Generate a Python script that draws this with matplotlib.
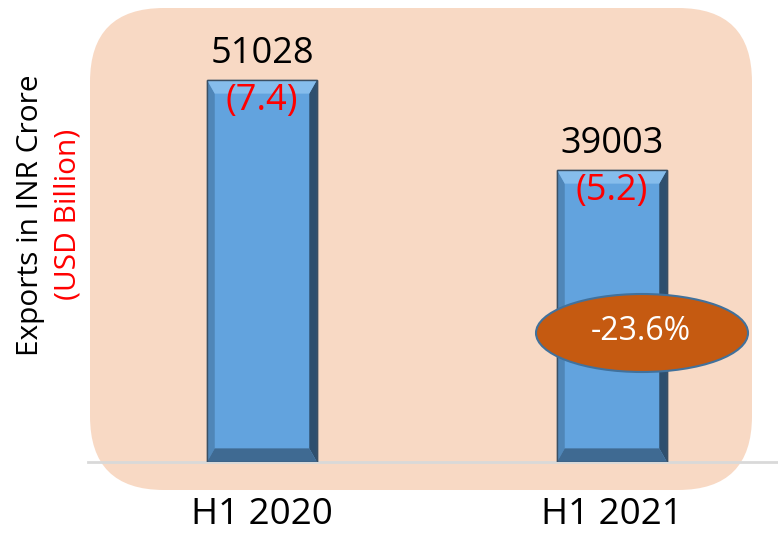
import matplotlib
matplotlib.use("Agg")
import matplotlib.pyplot as plt
from matplotlib.patches import FancyBboxPatch, Ellipse, Polygon
import numpy as np

categories = ["H1 2020", "H1 2021"]
inr_crore = [51028, 39003]
usd_billion = [7.4, 5.2]
growth_label = "-23.6%"

plt.rcParams['font.family'] = ['Open Sans', 'DejaVu Sans']

W, H = 778, 533
fig = plt.figure(figsize=(W / 100, H / 100), dpi=100)

def fx(px):
    return px / W

def fy(py):
    return 1 - py / H

# rounded background panel
bg = FancyBboxPatch((fx(90), fy(490)), fx(752 - 90), (490 - 8) / H,
                    boxstyle="round,pad=0,rounding_size=0.095", transform=fig.transFigure,
                    facecolor="#F8D9C4", edgecolor="none", zorder=-5, mutation_aspect=W / H)
fig.patches.append(bg)

ax = fig.add_axes([fx(88), fy(462), 1 - fx(88), (462 - 8) / H])
ax.set_zorder(1)
ax.patch.set_alpha(0)
x = np.arange(len(categories))
bw = 0.314
bars = ax.bar(x, inr_crore, width=bw, color="#62A3DE", edgecolor="#33506b", linewidth=1.0, zorder=3)
ax.set_ylim(0, 51028 * (462 - 8) / 382)
ax.set_xlim((88 - 262) / 350, (778 - 262) / 350)

# bevel effect on bars
for b in bars:
    x0, w, h = b.get_x(), b.get_width(), b.get_height()
    x1 = x0 + w
    dx = w * 0.07
    dy = ax.get_ylim()[1] * 0.03
    polys = [
        ([(x0, 0), (x0 + dx, dy), (x0 + dx, h - dy), (x0, h)], "#4f86b8"),
        ([(x1, 0), (x1 - dx, dy), (x1 - dx, h - dy), (x1, h)], "#2e4f6e"),
        ([(x0, h), (x0 + dx, h - dy), (x1 - dx, h - dy), (x1, h)], "#86bdec"),
        ([(x0, 0), (x0 + dx, dy), (x1 - dx, dy), (x1, 0)], "#3f6a92"),
    ]
    for pts, c in polys:
        ax.add_patch(Polygon(pts, closed=True, facecolor=c, edgecolor="none", zorder=4))
    ax.add_patch(Polygon([(x0, 0), (x1, 0), (x1, h), (x0, h)], closed=True, facecolor="none",
                         edgecolor="#3b4f63", linewidth=1.0, zorder=5))

for xi, v, u in zip(x, inr_crore, usd_billion):
    ax.annotate(f"{v}", (xi, v), xytext=(0, 6), textcoords="offset points",
                ha="center", va="bottom", fontsize=26, color="black", zorder=6)
    ax.annotate(f"({u})", (xi, v), xytext=(0, -2), textcoords="offset points",
                ha="center", va="top", fontsize=26, color="#FF0000", zorder=6)

for s in ["top", "right", "left"]:
    ax.spines[s].set_visible(False)
ax.spines["bottom"].set_color("#D9D9D9")
ax.spines["bottom"].set_linewidth(2)
ax.set_yticks([])
ax.set_xticks(x)
ax.set_xticklabels(categories, fontsize=26.5)
ax.tick_params(axis="x", length=0, pad=25)

# growth ellipse
ell = Ellipse((fx(642), fy(333)), fx(212), 78 / H, transform=fig.transFigure,
              facecolor="#C55A11", edgecolor="#41719C", linewidth=1.5, zorder=10)
fig.patches.append(ell)
fig.text(fx(641), fy(331), growth_label, ha="center", va="center", fontsize=23, color="white", zorder=11)

fig.text(fx(31), fy(215), "Exports in INR Crore", rotation=90, ha="center", va="center",
         fontsize=21.5, color="black")
fig.text(fx(68), fy(214), "(USD Billion)", rotation=90, ha="center", va="center",
         fontsize=21.5, color="#FF0000")

fig.savefig("out.png", dpi=100)
